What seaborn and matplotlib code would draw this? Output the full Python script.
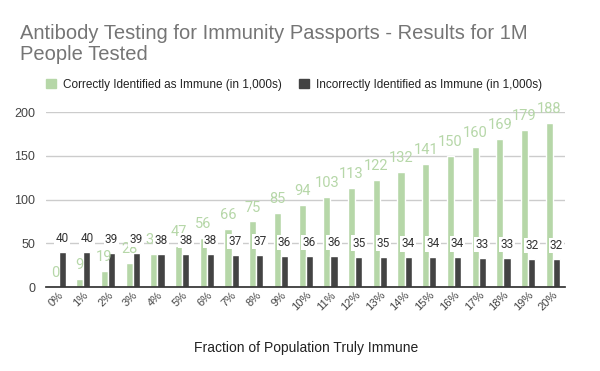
import matplotlib
matplotlib.use("Agg")
import matplotlib.pyplot as plt
import seaborn as sns
import pandas as pd

categories = [f"{i}%" for i in range(21)]
correct = [0, 9, 19, 28, 38, 47, 56, 66, 75, 85, 94, 103, 113, 122, 132, 141, 150, 160, 169, 179, 188]
incorrect = [40, 40, 39, 39, 38, 38, 38, 37, 37, 36, 36, 36, 35, 35, 34, 34, 34, 33, 33, 32, 32]
s1 = "Correctly Identified as Immune (in 1,000s)"
s2 = "Incorrectly Identified as Immune (in 1,000s)"

df = pd.DataFrame({
    "cat": categories * 2,
    "val": correct + incorrect,
    "series": [s1] * 21 + [s2] * 21,
})

sns.set_theme(style="white")
plt.rcParams['font.family'] = ['Liberation Sans', 'DejaVu Sans']

green = "#b6d7a8"
dark = "#434343"

fig = plt.figure(figsize=(6, 3.71), dpi=100)
ax = fig.add_axes([0.077, 0.226, 0.865, 0.472])
sns.barplot(data=df, x="cat", y="val", hue="series", palette=[green, dark],
            width=0.58, ax=ax, legend=False, saturation=1)
ax.set_ylim(0, 200)
ax.set_xlim(-0.5, 20.5)
ax.set_yticks([0, 50, 100, 150, 200])
ax.grid(axis="y", color="#cccccc", linewidth=1)
ax.set_axisbelow(True)
for s in ["top", "right", "left"]:
    ax.spines[s].set_visible(False)
ax.spines["bottom"].set_color("#333333")
ax.tick_params(axis="y", length=0, labelsize=9, labelcolor="#444444", pad=8)
ax.tick_params(axis="x", length=0, labelsize=8, labelcolor="#444444", pad=2)
for lab in ax.get_xticklabels():
    lab.set_rotation(45)
    lab.set_ha("right")
    lab.set_rotation_mode("anchor")
ax.set_ylabel("")
ax.set_xlabel("Fraction of Population Truly Immune", fontsize=10, color="#222222", labelpad=20)

conts = ax.containers
for bar, v in zip(conts[0], correct):
    ax.annotate(str(v), (bar.get_x() + bar.get_width() / 2, bar.get_height()),
                xytext=(0, 5), textcoords="offset points", ha="center", va="bottom",
                fontsize=10.5, color=green, family="Roboto")
for bar, v in zip(conts[1], incorrect):
    ax.annotate(str(v), (bar.get_x() + bar.get_width() / 2, bar.get_height()),
                xytext=(0, 5), textcoords="offset points", ha="center", va="bottom",
                fontsize=8.5, color="#333333", family="Roboto",
                bbox=dict(boxstyle="square,pad=0.1", fc="white", ec="none"))

fig.text(0.033, 0.828, "Antibody Testing for Immunity Passports - Results for 1M\nPeople Tested",
         fontsize=14.5, color="#757575", ha="left", va="bottom", linespacing=1.15)

from matplotlib.patches import Patch
handles = [Patch(color=green), Patch(color=dark)]
fig.legend(handles, [s1, s2], loc="center", bbox_to_anchor=(0.49, 0.772), ncol=2,
           frameon=False, fontsize=8.5, handlelength=0.9, handleheight=0.9,
           columnspacing=1.4, handletextpad=0.6, labelcolor="#222222")

fig.savefig("out.png", dpi=100)
